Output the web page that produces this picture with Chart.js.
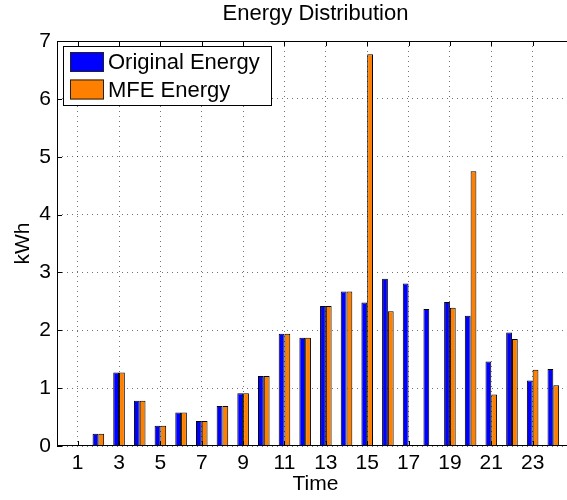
<!DOCTYPE html>
<html>
<head>
<meta charset="utf-8">
<title>Energy Distribution</title>
<script src="https://cdn.jsdelivr.net/npm/chart.js@4.4.0/dist/chart.umd.min.js"></script>
<style>
  html, body { margin: 0; padding: 0; background: #fff; overflow: hidden; }
  #wrap { width: 631px; height: 500px; }
</style>
</head>
<body>
<div id="wrap"><canvas id="energyChart" width="631" height="500"></canvas></div>
<script>
// hourly energy, kWh
const hours = [1, 2, 3, 4, 5, 6, 7, 8, 9, 10, 11, 12, 13, 14, 15, 16, 17, 18, 19, 20, 21, 22, 23, 24];
const originalEnergy = [0, 0.21, 1.27, 0.78, 0.35, 0.58, 0.43, 0.69, 0.91, 1.21, 1.94, 1.87,
                        2.42, 2.67, 2.48, 2.89, 2.81, 2.37, 2.49, 2.25, 1.46, 1.96, 1.13, 1.33];
const mfeEnergy = [0, 0.21, 1.27, 0.78, 0.35, 0.58, 0.43, 0.69, 0.91, 1.21, 1.94, 1.87,
                   2.42, 2.67, 6.77, 2.33, 0, 0, 2.39, 4.75, 0.89, 1.85, 1.32, 1.05];
const timeTicks = [1, 3, 5, 7, 9, 11, 13, 15, 17, 19, 21, 23];
const kwhTicks = [0, 1, 2, 3, 4, 5, 6, 7];

const FONT = "'Liberation Sans', Arial, Helvetica, sans-serif";
const gridColor = 'rgba(0,0,0,0.55)';

// frame, inward tick marks and the boxed legend in the top-left corner
const axesBoxPlugin = {
    id: 'axesBox',
    afterDraw(chart) {
        const { ctx, chartArea: a, scales: { x, y } } = chart;
        ctx.save();
        ctx.strokeStyle = '#000';
        ctx.lineWidth = 1;
        ctx.strokeRect(a.left + 0.5, a.top + 0.5, a.right - a.left - 1, a.bottom - a.top - 1);

        ctx.beginPath();
        timeTicks.forEach(v => {
            const px = Math.round(x.getPixelForValue(v)) + 0.5;
            ctx.moveTo(px, a.bottom); ctx.lineTo(px, a.bottom - 5);
            ctx.moveTo(px, a.top); ctx.lineTo(px, a.top + 5);
        });
        kwhTicks.forEach(v => {
            const py = Math.round(y.getPixelForValue(v)) + 0.5;
            ctx.moveTo(a.left, py); ctx.lineTo(a.left + 5, py);
            ctx.moveTo(a.right, py); ctx.lineTo(a.right - 5, py);
        });
        ctx.stroke();

        // legend
        const lx = a.left + 6, ly = a.top + 5, lw = 208, lh = 59;
        ctx.fillStyle = '#fff';
        ctx.fillRect(lx, ly, lw, lh);
        ctx.strokeRect(lx + 0.5, ly + 0.5, lw, lh);
        ctx.font = '22px ' + FONT;
        ctx.textBaseline = 'middle';
        chart.data.datasets.forEach((ds, i) => {
            const sy = ly + 6 + i * 27.5;
            ctx.fillStyle = ds.backgroundColor;
            ctx.fillRect(lx + 7, sy, 34, 20);
            ctx.strokeStyle = '#222';
            ctx.strokeRect(lx + 7.5, sy + 0.5, 33, 19);
            ctx.fillStyle = '#000';
            ctx.fillText(ds.label, lx + 45, sy + 11);
        });
        ctx.restore();
    }
};

new Chart(document.getElementById('energyChart'), {
    type: 'bar',
    data: {
        datasets: [
            {
                label: 'Original Energy',
                data: hours.map((h, i) => ({ x: h, y: originalEnergy[i] })),
                backgroundColor: '#0000ff',
                borderColor: '#000',
                borderWidth: 1
            },
            {
                label: 'MFE Energy',
                data: hours.map((h, i) => ({ x: h, y: mfeEnergy[i] })),
                backgroundColor: '#ff8000',
                borderColor: '#000',
                borderWidth: 1
            }
        ]
    },
    options: {
        responsive: false,
        animation: false,
        devicePixelRatio: 1,
        categoryPercentage: 0.56,
        barPercentage: 1,
        layout: { padding: 0 },
        plugins: {
            legend: { display: false },
            tooltip: { enabled: false },
            title: {
                display: true,
                text: 'Energy Distribution',
                color: '#000',
                font: { family: FONT, size: 22, weight: 'normal' },
                padding: { top: 1, bottom: 13.6 }
            }
        },
        scales: {
            x: {
                type: 'linear',
                offset: false,
                min: 0,
                max: 25,
                afterBuildTicks: s => { s.ticks = timeTicks.map(v => ({ value: v })); },
                afterFit: s => { s.height = 54; },
                ticks: {
                    color: '#000',
                    font: { family: FONT, size: 21 },
                    padding: 5,
                    autoSkip: false,
                    maxRotation: 0,
                    callback: v => String(v)
                },
                grid: { color: gridColor, lineWidth: 1, drawTicks: false, offset: false },
                border: { display: false, dash: [1, 4] },
                title: {
                    display: true,
                    text: 'Time',
                    color: '#000',
                    font: { family: FONT, size: 21 },
                    padding: { top: 0, bottom: 3 }
                }
            },
            y: {
                min: 0,
                max: 7,
                afterBuildTicks: s => { s.ticks = kwhTicks.map(v => ({ value: v })); },
                afterFit: s => { s.width = 57; },
                ticks: {
                    color: '#000',
                    font: { family: FONT, size: 21 },
                    padding: 6
                },
                grid: { color: gridColor, lineWidth: 1, drawTicks: false },
                border: { display: false, dash: [1, 4] },
                title: {
                    display: true,
                    text: 'kWh',
                    color: '#000',
                    font: { family: FONT, size: 21 },
                    padding: { top: 11, bottom: 0 }
                }
            },
            // empty right margin, same width as the left axis
            yRight: {
                position: 'right',
                min: 0,
                max: 7,
                afterFit: s => { s.width = 57; },
                ticks: { display: false },
                grid: { display: false },
                border: { display: false }
            }
        }
    },
    plugins: [axesBoxPlugin]
});
</script>
</body>
</html>
